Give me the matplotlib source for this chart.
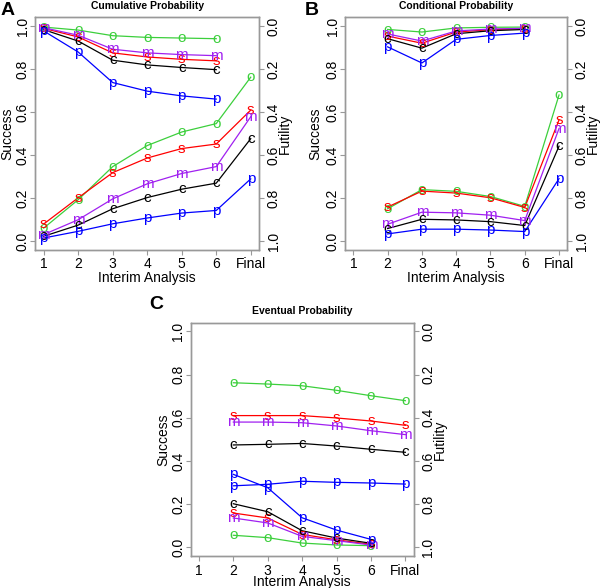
import numpy as np
import matplotlib
matplotlib.use('Agg')
import matplotlib.pyplot as plt
from matplotlib.transforms import offset_copy

plt.rcParams['font.family'] = ['Liberation Sans', 'DejaVu Sans']

# 五條曲線：字母、顏色
letters = ['o', 's', 'm', 'c', 'p']
colors = ['#3ccf3c', '#ff0000', '#a020f0', '#000000', '#0000ff']
xlabels = ['1', '2', '3', '4', '5', '6', 'Final']

# A: Cumulative Probability (success 1..Final, futility 1..6)
cum_success = [
    [0.060, 0.192, 0.346, 0.444, 0.507, 0.546, 0.762],
    [0.079, 0.201, 0.318, 0.386, 0.430, 0.451, 0.609],
    [0.030, 0.099, 0.196, 0.266, 0.314, 0.346, 0.578],
    [0.022, 0.074, 0.150, 0.202, 0.241, 0.269, 0.476],
    [0.014, 0.045, 0.080, 0.107, 0.130, 0.142, 0.289],
]
cum_futility = [
    [0.005, 0.019, 0.045, 0.053, 0.056, 0.059],
    [0.011, 0.051, 0.125, 0.144, 0.155, 0.162],
    [0.008, 0.043, 0.108, 0.125, 0.133, 0.138],
    [0.017, 0.070, 0.159, 0.181, 0.193, 0.203],
    [0.023, 0.121, 0.263, 0.303, 0.325, 0.340],
]

# B: Conditional Probability (success 2..Final, futility 2..6)
cond_success = [
    [0.150, 0.239, 0.231, 0.207, 0.161, 0.679],
    [0.158, 0.232, 0.223, 0.201, 0.156, 0.563],
    [0.078, 0.134, 0.131, 0.120, 0.095, 0.523],
    [0.058, 0.101, 0.098, 0.090, 0.072, 0.441],
    [0.033, 0.055, 0.055, 0.051, 0.044, 0.290],
]
cond_futility = [
    [0.016, 0.028, 0.009, 0.006, 0.005],
    [0.047, 0.080, 0.028, 0.017, 0.012],
    [0.037, 0.070, 0.023, 0.014, 0.011],
    [0.059, 0.103, 0.036, 0.022, 0.016],
    [0.097, 0.172, 0.062, 0.044, 0.033],
]

# C: Eventual Probability (success 2..Final, futility 2..6)
ev_success = [
    [0.762, 0.756, 0.748, 0.727, 0.702, 0.679],
    [0.610, 0.610, 0.610, 0.599, 0.585, 0.565],
    [0.580, 0.580, 0.577, 0.562, 0.540, 0.522],
    [0.474, 0.477, 0.481, 0.469, 0.454, 0.440],
    [0.285, 0.292, 0.306, 0.301, 0.298, 0.293],
]
ev_futility = [
    [0.944, 0.955, 0.980, 0.989, 0.992],
    [0.841, 0.864, 0.940, 0.965, 0.986],
    [0.864, 0.887, 0.949, 0.969, 0.989],
    [0.798, 0.835, 0.923, 0.957, 0.981],
    [0.662, 0.724, 0.863, 0.920, 0.963],
]

BOX = '#999999'
FS = 10
MFS = 11


def draw_series(ax, x, y, letter, color):
    ax.plot(x, y, color=color, lw=0.9, zorder=2)
    tr = offset_copy(ax.transData, fig=ax.figure, y=-0.27 * MFS, units='points')
    for xi, yi in zip(x, y):
        ax.text(xi, yi, letter, color=color, fontsize=MFS, ha='center',
                va='baseline', transform=tr, zorder=3)


def panel(rect, tag, tagpos, title, succ, fut, start, lx, rx, by):
    ax = fig.add_axes(rect)
    ax2 = ax.twinx()
    ax.set_xlim(0.76, 7.24)
    ax.set_ylim(-0.04, 1.04)
    ax2.set_ylim(1.04, -0.04)
    ticks = [0, 0.2, 0.4, 0.6, 0.8, 1.0]
    ax.set_yticks(ticks)
    ax.set_yticklabels(['%.1f' % t for t in ticks], rotation=90, va='center')
    ax2.set_yticks(ticks)
    ax2.set_yticklabels(['%.1f' % t for t in ticks], rotation=90, va='center')
    ax.set_xticks(range(1, 8))
    ax.set_xticklabels(xlabels)
    for a in (ax, ax2):
        for s in a.spines.values():
            s.set_color(BOX)
            s.set_linewidth(1.0)
        a.tick_params(colors=BOX, labelcolor='black', labelsize=FS, length=3.5, width=0.8)
    ax.tick_params(axis='y', pad=0.5)
    ax2.tick_params(axis='y', pad=2)
    ax.tick_params(axis='x', pad=2)
    ax.set_xlabel('Interim Analysis', fontsize=FS)
    ax.xaxis.set_label_coords(0.5, by)
    ax.set_ylabel('Success', fontsize=FS, va='center')
    ax.yaxis.set_label_coords(lx, 0.5)
    ax2.set_ylabel('Futility', fontsize=FS, rotation=90, va='center')
    ax2.yaxis.set_label_coords(rx, 0.5)
    ax.set_title(title, fontsize=7.5, fontweight='bold', pad=6)
    fig.text(tagpos[0] / 600, 1 - tagpos[1] / 588, tag, fontsize=14,
             fontweight='bold', ha='left', va='top')

    xs = np.arange(start, 8)
    xf = np.arange(start, 7)
    for i in range(len(letters)):
        draw_series(ax, xs, succ[i], letters[i], colors[i])
        draw_series(ax2, xf, fut[i], letters[i], colors[i])
    return ax


fig = plt.figure(figsize=(6.0, 5.88), dpi=100)
panel([0.059, 0.5755, 0.3727, 0.3949], 'A', (1, 2), 'Cumulative Probability',
      cum_success, cum_futility, 1, -0.127, 1.116, -0.09)
panel([0.5752, 0.5755, 0.3702, 0.3949], 'B', (305, 2), 'Conditional Probability',
      cond_success, cond_futility, 2, -0.135, 1.116, -0.09)
panel([0.3178, 0.0544, 0.3715, 0.3968], 'C', (149, 296), 'Eventual Probability',
      ev_success, ev_futility, 2, -0.124, 1.118, -0.083)

plt.savefig('out.png', dpi=100)
